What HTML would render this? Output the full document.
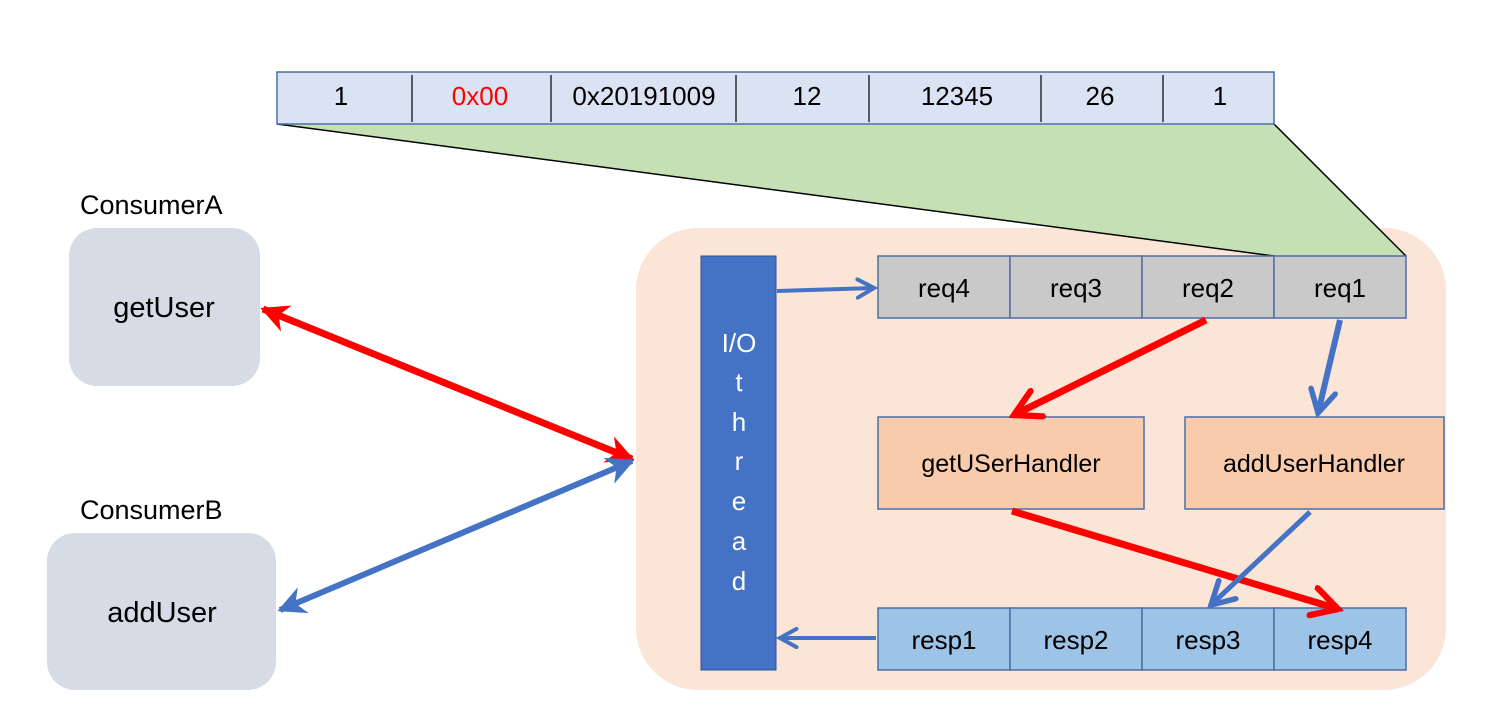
<!DOCTYPE html>
<html><head><meta charset="utf-8"><style>
html,body{margin:0;padding:0;background:#fff;}
svg{display:block;}
text{font-family:"Liberation Sans","Noto Sans CJK SC",sans-serif;}
</style></head><body>
<svg width="1503" height="708" viewBox="0 0 1503 708" xmlns="http://www.w3.org/2000/svg">
<defs>
<marker id="rh" viewBox="0 0 10 10" refX="9" refY="5" markerWidth="32" markerHeight="28" orient="auto-start-reverse" markerUnits="userSpaceOnUse">
<path d="M0,0 L10,5 L0,10 L3,5 Z" fill="#ff0000"/></marker>
<marker id="bh" viewBox="0 0 10 10" refX="9" refY="5" markerWidth="30" markerHeight="28" orient="auto-start-reverse" markerUnits="userSpaceOnUse">
<path d="M0,0 L10,5 L0,10 L3,5 Z" fill="#4472c4"/></marker>
<marker id="ro" viewBox="0 0 12 12" refX="10" refY="6" markerWidth="34" markerHeight="34" orient="auto" markerUnits="userSpaceOnUse">
<path d="M1,1 L10,6 L1,11" fill="none" stroke="#ff0000" stroke-width="2.2" stroke-linecap="round"/></marker>
<marker id="bo" viewBox="0 0 12 12" refX="10" refY="6" markerWidth="30" markerHeight="30" orient="auto" markerUnits="userSpaceOnUse">
<path d="M1,1 L10,6 L1,11" fill="none" stroke="#4472c4" stroke-width="2.2" stroke-linecap="round"/></marker>
<marker id="bs" viewBox="0 0 12 12" refX="10" refY="6" markerWidth="22" markerHeight="22" orient="auto" markerUnits="userSpaceOnUse">
<path d="M1,1 L10,6 L1,11" fill="none" stroke="#4472c4" stroke-width="2.2" stroke-linecap="round"/></marker>
</defs>

<!-- server area -->
<rect x="636" y="228" width="810" height="462" rx="62" fill="#fbe5d6"/>

<!-- green trapezoid -->
<polygon points="277,124 1274,124 1406,256 1274,256" fill="#c5e0b4"/>
<line x1="277" y1="124" x2="1274" y2="256" stroke="#000" stroke-width="1.5"/>
<line x1="1274" y1="124" x2="1406" y2="256" stroke="#000" stroke-width="1.5"/>

<!-- top bar -->
<rect x="277" y="72" width="997" height="52" fill="#dae3f3" stroke="#4a6fa5" stroke-width="1.5"/>
<g stroke="#000" stroke-width="1.2">
<line x1="412" y1="75" x2="412" y2="122"/><line x1="551" y1="75" x2="551" y2="122"/>
<line x1="736" y1="75" x2="736" y2="122"/><line x1="869" y1="75" x2="869" y2="122"/>
<line x1="1041" y1="75" x2="1041" y2="122"/><line x1="1163" y1="75" x2="1163" y2="122"/>
</g>
<g font-size="26" text-anchor="middle" fill="#000">
<text x="341" y="105">1</text>
<text x="480" y="105" fill="#ff0000">0x00</text>
<text x="644" y="105">0x20191009</text>
<text x="807" y="105">12</text>
<text x="957" y="105">12345</text>
<text x="1100" y="105">26</text>
<text x="1220" y="105">1</text>
</g>

<!-- consumers -->
<text x="80" y="214" font-size="27">ConsumerA</text>
<rect x="69" y="228" width="191" height="158" rx="28" fill="#d6dce5"/>
<text x="164" y="317" font-size="29" text-anchor="middle">getUser</text>
<text x="80" y="519" font-size="27">ConsumerB</text>
<rect x="47" y="533" width="229" height="157" rx="28" fill="#d6dce5"/>
<text x="162" y="622" font-size="29" text-anchor="middle">addUser</text>

<rect x="701" y="256" width="75" height="414" fill="#4472c4" stroke="#2f528f" stroke-width="1"/>
<g font-size="26" fill="#fff" text-anchor="middle">
<text x="739" y="352">I/O</text>
<text x="739" y="391">t</text>
<text x="739" y="431">h</text>
<text x="739" y="470">r</text>
<text x="739" y="510">e</text>
<text x="739" y="550">a</text>
<text x="739" y="590">d</text>
</g>

<g stroke="#4a6fa5" stroke-width="1.5" fill="#c9c9c9">
<rect x="878" y="256" width="132" height="62"/><rect x="1010" y="256" width="132" height="62"/>
<rect x="1142" y="256" width="132" height="62"/><rect x="1274" y="256" width="132" height="62"/>
</g>
<g font-size="26" text-anchor="middle">
<text x="944" y="297">req4</text><text x="1076" y="297">req3</text>
<text x="1208" y="297">req2</text><text x="1340" y="297">req1</text>
</g>

<rect x="878" y="417" width="266" height="92" fill="#f8cbad" stroke="#4a6fa5" stroke-width="1.5"/>
<rect x="1185" y="417" width="259" height="92" fill="#f8cbad" stroke="#4a6fa5" stroke-width="1.5"/>
<text x="1011" y="472" font-size="25" text-anchor="middle">getUSerHandler</text>
<text x="1314" y="472" font-size="25" text-anchor="middle">addUserHandler</text>

<g stroke="#4a6fa5" stroke-width="1.5" fill="#9dc3e6">
<rect x="878" y="608" width="132" height="62"/><rect x="1010" y="608" width="132" height="62"/>
<rect x="1142" y="608" width="132" height="62"/><rect x="1274" y="608" width="132" height="62"/>
</g>
<g font-size="26" text-anchor="middle">
<text x="944" y="649">resp1</text><text x="1076" y="649">resp2</text>
<text x="1208" y="649">resp3</text><text x="1340" y="649">resp4</text>
</g>

<!-- arrows -->
<line x1="263" y1="309" x2="632" y2="459" stroke="#ff0000" stroke-width="7" marker-start="url(#rh)" marker-end="url(#rh)"/>
<line x1="280" y1="610" x2="632" y2="461" stroke="#4472c4" stroke-width="6" marker-start="url(#bh)" marker-end="url(#bh)"/>
<line x1="777" y1="291" x2="874" y2="288" stroke="#4472c4" stroke-width="4" marker-end="url(#bs)"/>
<line x1="876" y1="638" x2="780" y2="638" stroke="#4472c4" stroke-width="4" marker-end="url(#bs)"/>
<line x1="1206" y1="320" x2="1014" y2="415" stroke="#ff0000" stroke-width="7" marker-end="url(#ro)"/>
<line x1="1340" y1="320" x2="1318" y2="413" stroke="#4472c4" stroke-width="6" marker-end="url(#bo)"/>
<line x1="1012" y1="511" x2="1338" y2="609" stroke="#ff0000" stroke-width="7" marker-end="url(#ro)"/>
<line x1="1310" y1="512" x2="1211" y2="605" stroke="#4472c4" stroke-width="5" marker-end="url(#bo)"/>
</svg>
</body></html>
